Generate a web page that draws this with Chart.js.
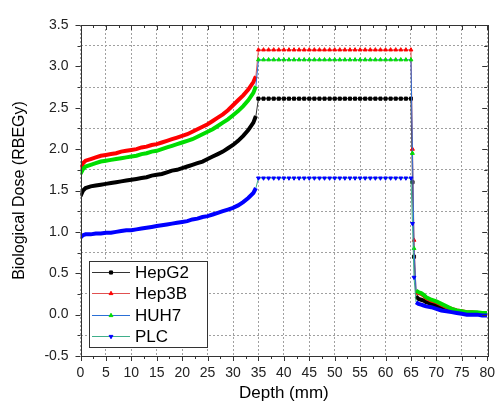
<!DOCTYPE html>
<html>
<head>
<meta charset="utf-8">
<script src="https://cdn.jsdelivr.net/npm/chart.js"></script>
<style>
  body { margin: 0; background: #fff; }
  #wrap { width: 504px; height: 409px; position: relative; }
</style>
</head>
<body>
<div id="wrap"><canvas id="doseChart" width="504" height="409"></canvas></div>
<script>
// Depth axis (mm): rising part, plateau (35-65) and distal fall-off
const depth = [
  0, 0.5, 1, 2, 3, 4, 5, 6, 7, 8, 9, 10, 11, 12, 13, 14, 15, 16, 17, 18, 19, 20,
  21, 22, 23, 24, 25, 26, 27, 28, 29, 30, 31, 32, 33, 34, 34.5,
  35, 36, 37, 38, 39, 40, 41, 42, 43, 44, 45, 46, 47, 48, 49, 50,
  51, 52, 53, 54, 55, 56, 57, 58, 59, 60, 61, 62, 63, 64, 65,
  65.3, 65.6, 66, 66.5, 67, 67.5, 68, 69, 70, 71, 72, 73, 74, 75, 76, 77, 78, 79, 80
];

const hepG2 = [
  1.43, 1.50, 1.53, 1.55, 1.56, 1.57, 1.58, 1.59, 1.60, 1.61, 1.62, 1.63, 1.64, 1.65, 1.66, 1.68, 1.69, 1.70, 1.72, 1.74, 1.75, 1.77,
  1.79, 1.81, 1.83, 1.85, 1.88, 1.91, 1.94, 1.97, 2.01, 2.05, 2.10, 2.16, 2.23, 2.32, 2.40,
  2.61, 2.61, 2.61, 2.61, 2.61, 2.61, 2.61, 2.61, 2.61, 2.61, 2.61, 2.61, 2.61, 2.61, 2.61, 2.61,
  2.61, 2.61, 2.61, 2.61, 2.61, 2.61, 2.61, 2.61, 2.61, 2.61, 2.61, 2.61, 2.61, 2.61, 2.61,
  1.60, 0.70, 0.22, 0.19, 0.18, 0.17, 0.15, 0.13, 0.11, 0.09, 0.07, 0.05, 0.04, 0.03, 0.02, 0.02, 0.02, 0.01, 0.01
];

const hep3B = [
  1.76, 1.83, 1.86, 1.88, 1.90, 1.92, 1.93, 1.94, 1.95, 1.97, 1.98, 1.99, 2.00, 2.02, 2.03, 2.05, 2.06, 2.08, 2.10, 2.12, 2.14, 2.16,
  2.18, 2.21, 2.24, 2.27, 2.30, 2.34, 2.38, 2.42, 2.47, 2.53, 2.59, 2.65, 2.72, 2.81, 2.88,
  3.20, 3.20, 3.20, 3.20, 3.20, 3.20, 3.20, 3.20, 3.20, 3.20, 3.20, 3.20, 3.20, 3.20, 3.20, 3.20,
  3.20, 3.20, 3.20, 3.20, 3.20, 3.20, 3.20, 3.20, 3.20, 3.20, 3.20, 3.20, 3.20, 3.20, 3.20,
  2.00, 0.90, 0.27, 0.26, 0.25, 0.23, 0.20, 0.17, 0.15, 0.12, 0.09, 0.07, 0.05, 0.04, 0.03, 0.03, 0.02, 0.02, 0.02
];

const huh7 = [
  1.70, 1.76, 1.79, 1.81, 1.83, 1.85, 1.86, 1.87, 1.88, 1.89, 1.90, 1.91, 1.92, 1.94, 1.95, 1.97, 1.98, 2.00, 2.02, 2.04, 2.06, 2.08,
  2.10, 2.12, 2.15, 2.18, 2.21, 2.24, 2.28, 2.32, 2.36, 2.41, 2.46, 2.52, 2.59, 2.68, 2.76,
  3.08, 3.08, 3.08, 3.08, 3.08, 3.08, 3.08, 3.08, 3.08, 3.08, 3.08, 3.08, 3.08, 3.08, 3.08, 3.08,
  3.08, 3.08, 3.08, 3.08, 3.08, 3.08, 3.08, 3.08, 3.08, 3.08, 3.08, 3.08, 3.08, 3.08, 3.08,
  1.95, 0.80, 0.29, 0.27, 0.26, 0.24, 0.21, 0.18, 0.16, 0.13, 0.10, 0.07, 0.05, 0.04, 0.03, 0.03, 0.03, 0.02, 0.02
];

const plc = [
  0.93, 0.96, 0.97, 0.97, 0.98, 0.98, 0.99, 0.99, 1.00, 1.01, 1.02, 1.02, 1.03, 1.04, 1.05, 1.06, 1.07, 1.08, 1.09, 1.10, 1.11, 1.12,
  1.13, 1.15, 1.16, 1.18, 1.19, 1.21, 1.23, 1.25, 1.27, 1.29, 1.32, 1.36, 1.41, 1.47, 1.53,
  1.65, 1.65, 1.65, 1.65, 1.65, 1.65, 1.65, 1.65, 1.65, 1.65, 1.65, 1.65, 1.65, 1.65, 1.65, 1.65,
  1.65, 1.65, 1.65, 1.65, 1.65, 1.65, 1.65, 1.65, 1.65, 1.65, 1.65, 1.65, 1.65, 1.65, 1.65,
  1.10, 0.45, 0.15, 0.13, 0.12, 0.11, 0.10, 0.09, 0.07, 0.05, 0.04, 0.03, 0.02, 0.01, 0.00, 0.00, 0.00, -0.01, -0.01
];

const xTicks = [0, 80, 5];       // min, max, step
const yTicks = [-0.5, 3.5, 0.5]; // min, max, step

const FONT = '"Liberation Sans", Arial, sans-serif';

// name, values, marker colour, line colour, marker style, rotation
const series = [
  { name: 'HepG2', values: hepG2, marker: '#000000', line: '#333333', style: 'rect', rot: 0 },
  { name: 'Hep3B', values: hep3B, marker: '#ff0000', line: '#e05050', style: 'triangle', rot: 0 },
  { name: 'HUH7', values: huh7, marker: '#00dd00', line: '#2a6fd6', style: 'triangle', rot: 0 },
  { name: 'PLC', values: plc, marker: '#0000ff', line: '#3fae8a', style: 'triangle', rot: 180 }
];

// dense, noisy parts of the curve are shown as a thick band in marker colour
function isDense(x) {
  return x < 34.4 || x >= 66;
}

const datasets = series.map((s, k) => ({
  label: s.name,
  data: depth.map((x, i) => ({ x: x, y: s.values[i] })),
  borderColor: s.line,
  borderWidth: 1,
  backgroundColor: s.marker,
  pointBorderColor: s.marker,
  pointBackgroundColor: s.marker,
  pointStyle: s.style,
  rotation: s.rot,
  pointRadius: ctx => {
    const x = depth[ctx.dataIndex];
    return (x >= 35 && x < 66) ? 2.2 : 0;
  },
  pointBorderWidth: 1,
  order: series.length - k,
  segment: {
    borderColor: ctx => isDense(ctx.p0.parsed.x) ? s.marker : s.line,
    borderWidth: ctx => isDense(ctx.p0.parsed.x) ? 4 : 1
  }
}));

// frame, tick marks and legend box
const framePlugin = {
  id: 'frame',
  afterDraw(chart) {
    const ctx = chart.ctx;
    const a = chart.chartArea;
    const xs = chart.scales.x, ys = chart.scales.y;
    ctx.save();
    ctx.strokeStyle = '#333';
    ctx.lineWidth = 1;
    ctx.strokeRect(Math.round(a.left) + 0.5, Math.round(a.top) + 0.5,
      Math.round(a.right - a.left), Math.round(a.bottom - a.top));

    ctx.beginPath();
    for (let i = 0; i <= 32; i++) {
      const v = i * 2.5;
      const px = Math.round(xs.getPixelForValue(v)) + 0.5;
      const len = (i % 2 === 0) ? 5 : 3;
      ctx.moveTo(px, a.bottom); ctx.lineTo(px, a.bottom + len);
      ctx.moveTo(px, a.top); ctx.lineTo(px, a.top + len);
    }
    for (let i = 0; i <= 16; i++) {
      const v = -0.5 + i * 0.25;
      const py = Math.round(ys.getPixelForValue(v)) + 0.5;
      const len = (i % 2 === 0) ? 5 : 3;
      ctx.moveTo(a.left, py); ctx.lineTo(a.left - len, py);
      ctx.moveTo(a.right, py); ctx.lineTo(a.right - len, py);
    }
    ctx.stroke();

    // legend
    const box = { x: 89.5, y: 261.5, w: 118, h: 86 };
    ctx.fillStyle = '#fff';
    ctx.fillRect(box.x, box.y, box.w, box.h);
    ctx.strokeStyle = '#333';
    ctx.strokeRect(box.x, box.y, box.w, box.h);
    ctx.font = '17px ' + FONT;
    ctx.textBaseline = 'middle';
    series.forEach((s, i) => {
      const cy = Math.round(272 + i * 21.4) + 0.5;
      ctx.strokeStyle = s.line;
      ctx.lineWidth = 1;
      ctx.beginPath();
      ctx.moveTo(92, cy); ctx.lineTo(130, cy);
      ctx.stroke();
      ctx.fillStyle = s.marker;
      ctx.strokeStyle = s.marker;
      Chart.helpers.drawPoint(ctx, { pointStyle: s.style, rotation: s.rot, radius: 2.2, borderWidth: 1 }, 111, cy);
      ctx.fillStyle = '#000';
      ctx.fillText(s.name, 135, cy + 1);
    });
    ctx.restore();
  }
};

new Chart(document.getElementById('doseChart'), {
  type: 'line',
  data: { datasets: datasets },
  options: {
    responsive: false,
    animation: false,
    layout: { padding: { top: 25, right: 9, left: 0, bottom: 0 } },
    plugins: {
      legend: { display: false },
      tooltip: { enabled: false }
    },
    scales: {
      x: {
        type: 'linear',
        min: xTicks[0],
        max: xTicks[1],
        afterFit: scale => { scale.height = 53; },
        ticks: {
          stepSize: xTicks[2],
          padding: 9,
          color: '#222',
          font: { family: FONT, size: 14 },
          maxRotation: 0,
          autoSkip: false
        },
        grid: { drawTicks: false, color: '#a0a0a0', lineWidth: 1 },
        border: { display: false, dash: [2, 2] },
        title: {
          display: true,
          text: 'Depth (mm)',
          color: '#000',
          font: { family: FONT, size: 17 },
          padding: { top: 0, bottom: 5 }
        }
      },
      y: {
        type: 'linear',
        min: yTicks[0],
        max: yTicks[1],
        afterFit: scale => { scale.width = 80.5; },
        ticks: {
          stepSize: yTicks[2] / 2,
          padding: 12,
          color: '#222',
          font: { family: FONT, size: 14 },
          autoSkip: false,
          callback: v => (Math.round(v * 4) % 2 === 0) ? v.toFixed(1) : ''
        },
        grid: {
          drawTicks: false,
          lineWidth: 1,
          color: ctx => (ctx.tick && Math.round(ctx.tick.value * 4) % 2 !== 0) ? '#a0a0a0' : 'rgba(0,0,0,0)'
        },
        border: { display: false, dash: [2, 2] },
        title: {
          display: true,
          text: 'Biological Dose (RBEGy)',
          color: '#000',
          font: { family: FONT, size: 16 },
          padding: { top: 10, bottom: 0 }
        }
      }
    }
  },
  plugins: [framePlugin]
});
</script>
</body>
</html>
